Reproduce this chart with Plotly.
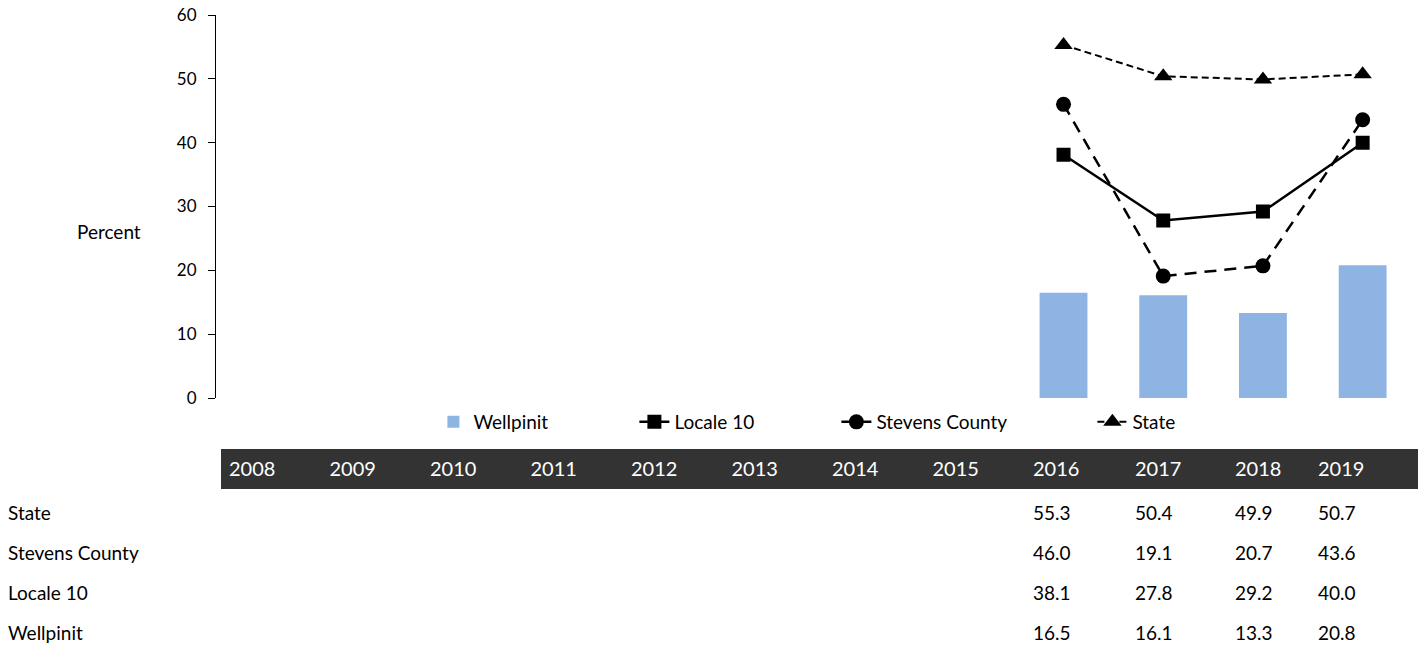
import plotly.graph_objects as go

years = ["2008", "2009", "2010", "2011", "2012", "2013", "2014", "2015", "2016", "2017", "2018", "2019"]
wellpinit = [None] * 8 + [16.5, 16.1, 13.3, 20.8]
locale10 = [None] * 8 + [38.1, 27.8, 29.2, 40.0]
stevens = [None] * 8 + [46.0, 19.1, 20.7, 43.6]
state = [None] * 8 + [55.3, 50.4, 49.9, 50.7]

row_labels = ["State", "Stevens County", "Locale 10", "Wellpinit"]
row_series = [state, stevens, locale10, wellpinit]

FONT = "Lato"
W, H = 1424, 650

fig = go.Figure()

fig.add_trace(go.Bar(
    x=years, y=wellpinit, name="Wellpinit",
    marker=dict(color="#8EB4E3", line=dict(width=0)),
    legendwidth=156,
))
fig.add_trace(go.Scatter(
    x=years, y=locale10, name="Locale 10", mode="lines+markers",
    line=dict(color="black", width=2.5),
    marker=dict(symbol="square", size=14, color="black"),
    legendwidth=157,
))
fig.add_trace(go.Scatter(
    x=years, y=stevens, name="Stevens County", mode="lines+markers",
    line=dict(color="black", width=2.5, dash="12px,8px"),
    marker=dict(symbol="circle", size=15, color="black"),
    legendwidth=211,
))
fig.add_trace(go.Scatter(
    x=years, y=state, name="State", mode="lines+markers",
    line=dict(color="black", width=2, dash="7px,4px"),
    marker=dict(symbol="triangle-up", size=16, color="black"),
    legendwidth=90,
))

# data table below the chart, built from the same arrays
def fmt(v):
    return "" if v is None else f"{v:.1f}"

header_vals = [""] + years
cell_cols = [row_labels] + [[fmt(s[i]) for s in row_series] for i in range(len(years))]
# last narrow blank column keeps the table's scrollbar off-screen
col_widths = [221] + [100.5] * 8 + [102, 100, 83, 108] + [6]
n_cols = len(col_widths)
band_fill = ["white"] + ["#333333"] * len(years) + ["white"]
clear = "rgba(0,0,0,0)"

# dark header band
fig.add_trace(go.Table(
    domain=dict(x=[0, 1], y=[1 - 490 / H, 1 - 449 / H]),
    columnwidth=col_widths,
    header=dict(
        values=[""] * n_cols,
        fill_color=band_fill,
        line=dict(width=1, color=band_fill),
        height=41,
    ),
    cells=dict(values=[]),
))

# header labels and rows
fig.add_trace(go.Table(
    domain=dict(x=[0, 1], y=[0, 1 - 453 / H]),
    columnwidth=col_widths,
    header=dict(
        values=header_vals + [""],
        fill_color=clear,
        line=dict(width=0, color=clear),
        font=dict(family=FONT, size=20, color="white"),
        align="left", height=45,
    ),
    cells=dict(
        values=cell_cols + [[""] * len(row_labels)],
        fill_color=clear,
        line=dict(width=0, color=clear),
        font=dict(family=FONT, size=19, color="black"),
        align="left", height=40,
    ),
))

fig.update_layout(
    width=W, height=H,
    margin=dict(l=0, r=0, t=0, b=0, autoexpand=False),
    paper_bgcolor="white", plot_bgcolor="white",
    font=dict(family=FONT, color="black"),
    bargap=0.52,
    showlegend=True,
    legend=dict(
        orientation="h", x=433.4 / W, xanchor="left", y=1 - 422 / H, yanchor="middle",
        font=dict(family=FONT, size=19, color="black"),
        bgcolor="rgba(0,0,0,0)",
    ),
    xaxis=dict(
        domain=[216 / W, 1412.5 / W], type="category", range=[-0.5, 11.5],
        showticklabels=False, showline=False, showgrid=False, zeroline=False, ticks="",
    ),
    yaxis=dict(
        domain=[1 - 398 / H, 1 - 15 / H], range=[0, 60], dtick=10,
        showline=True, linecolor="black", linewidth=1,
        ticks="outside", ticklen=7, tickcolor="black",
        ticklabelstandoff=8,
        showgrid=False, zeroline=False,
        tickfont=dict(family=FONT, size=17, color="black"),
    ),
    annotations=[dict(
        text="Percent", x=75 / W, y=1 - 231 / H, xref="paper", yref="paper",
        showarrow=False, font=dict(family=FONT, size=19, color="black"),
    )],
)

fig.write_html(
    "out.html",
    config={"displayModeBar": False},
    post_script="document.body.style.margin='0';",
)
